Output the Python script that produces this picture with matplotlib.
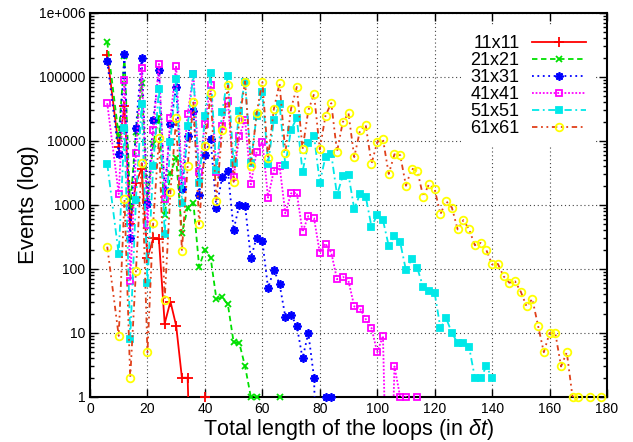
import numpy as np
import matplotlib
matplotlib.use("Agg")
import matplotlib.pyplot as plt
from matplotlib.lines import Line2D
from matplotlib.ticker import FixedLocator, FixedFormatter, LogLocator, NullFormatter

plt.rcParams["font.family"] = ["Liberation Sans", "DejaVu Sans"]
plt.rcParams["mathtext.fontset"] = "custom"
plt.rcParams["mathtext.it"] = "Liberation Sans:italic"
plt.rcParams["mathtext.rm"] = "Liberation Sans"

# loop lengths (in dt); length 8 never occurs
lengths = [6, 10, 12, 14, 16, 18, 20, 22, 24, 26, 28, 30, 32, 34, 36, 38, 40,
           42, 44, 46, 48, 50, 52, 54, 56, 58, 60, 62, 64, 66, 68, 70, 72, 74,
           76, 78, 80, 82, 84, 86, 88, 90, 92, 94, 96, 98, 100, 102, 104, 106,
           108, 110, 112, 114, 116, 118, 120, 122, 124, 126, 128, 130, 132,
           134, 136, 138, 140, 142, 144, 146, 148, 150, 152, 154, 156, 158,
           160, 162, 164, 166, 168, 170, 172, 174, 176, 178]

# events per length, one list per lattice size (0 = no event)
ev_11 = [220000, 8000, 35000, 500, 2240, 3700, 150, 300, 290, 14, 31, 13,
         2, 2, 0, 0, 1]
ev_21 = [350000, 12000, 210000, 900, 14000, 80000, 1100, 9000, 24000, 700,
         3200, 5400, 360, 900, 1080, 108, 200, 150, 34, 36, 28, 7.2, 6.9, 3,
         1, 1, 0, 0, 0, 1]
ev_31 = [175000, 6300, 230000, 300, 16000, 200000, 1040, 21000, 130000, 1700,
         18500, 69000, 1800, 12000, 29000, 1440, 6000, 10600, 890, 2700, 3450,
         410, 1000, 980, 147, 310, 275, 50, 98, 58, 18, 19, 13, 4, 10, 2, 0,
         1, 1]
ev_41 = [39000, 1480, 91000, 65, 6600, 138000, 490, 15000, 160000, 1240,
         23000, 150000, 2400, 26000, 112000, 3250, 18600, 74000, 3250, 17000,
         42000, 2700, 12000, 21500, 2100, 6800, 9800, 1300, 3450, 4100, 740,
         1520, 1550, 380, 670, 620, 180, 250, 180, 69, 76, 65, 26, 24, 16.5,
         12, 5, 9, 0, 3, 1, 1, 0, 1]
ev_51 = [4400, 170, 15800, 8, 1200, 38000, 60, 4100, 66000, 350, 9800, 94000,
         1070, 17300, 112000, 2200, 24500, 117000, 3500, 28000, 105000, 4500,
         29500, 85000, 4500, 25000, 59000, 4400, 21000, 38000, 4200, 15000,
         23000, 3300, 9400, 12000, 2240, 5700, 6300, 1440, 2850, 2950, 870,
         1480, 1350, 460, 700, 580, 230, 325, 260, 96, 143, 102, 52, 45, 42,
         12, 17, 10, 7, 7, 6, 2, 2, 3, 2]
ev_61 = [223, 9, 1230, 2, 94, 4500, 5, 520, 11000, 33, 1600, 23000, 193, 4100,
         40000, 500, 8500, 57000, 1150, 15000, 74000, 2300, 22000, 85000, 4000,
         27000, 85000, 5400, 31500, 80000, 6600, 32000, 70000, 7400, 30000,
         54000, 7400, 25000, 39000, 6800, 19700, 27000, 5600, 14600, 17700,
         4400, 9600, 10700, 3050, 6200, 6000, 2000, 3700, 3400, 1350, 2100,
         1760, 720, 1150, 910, 415, 580, 415, 235, 255, 197, 118, 120, 77, 61,
         64, 44, 26, 34, 13, 5, 10, 10, 3, 5, 1, 1, 0, 1, 0, 1]

labels = ["11x11", "21x21", "31x31", "41x41", "51x51", "61x61"]
series = [ev_11, ev_21, ev_31, ev_41, ev_51, ev_61]

styles = [
    dict(color="#ff0000", ls="-", marker="+", mc="#ff0000", mfc="#ff0000", ms=7),
    dict(color="#00e000", ls=(0, (3, 2)), marker="x", mc="#00e000", mfc="#00e000", ms=5),
    dict(color="#0000ff", ls=(0, (1, 2)), marker=(8, 2, 0), mc="#0000ff", mfc="#0000ff", ms=6),
    dict(color="#ff00ff", ls=(0, (1, 1)), marker="s", mc="#ff00ff", mfc="none", ms=5),
    dict(color="#00e8e8", ls=(0, (4, 2, 1, 2)), marker="s", mc="#00e8e8", mfc="#00e8e8", ms=5),
    dict(color="#e0401a", ls=(0, (3, 2, 1, 2, 1, 2)), marker="o", mc="#ffff00", mfc="none", ms=5.5),
]

fig = plt.figure(figsize=(6.33, 4.42), dpi=100)
ax = fig.add_axes([90 / 633, 1 - 397 / 442, 517 / 633, 384 / 442])

handles = []
for i, (vals, st) in enumerate(zip(series, styles)):
    x = np.array(lengths[:len(vals)], float)
    y = np.array(vals, float)
    # zero counts fall off the log axis, like gnuplot does
    y_line = np.where(y > 0, y, 1e-3)
    ax.plot(x, y_line, color=st["color"], ls=st["ls"], lw=1.3, zorder=3 + i)
    ok = y >= 1
    ax.plot(x[ok], y[ok], ls="none", marker=st["marker"], ms=st["ms"],
            mec=st["mc"], mfc=st["mfc"], mew=1.3, clip_on=False, zorder=3 + i)
    handles.append(Line2D([], [], color=st["color"], ls=st["ls"], lw=1.3,
                          marker=st["marker"], ms=st["ms"], mec=st["mc"],
                          mfc=st["mfc"], mew=1.3))

ax.set_yscale("log")
ax.set_xlim(0, 180)
ax.set_ylim(1, 1e6)

ax.set_xticks(range(0, 181, 20))
ax.yaxis.set_major_locator(FixedLocator([1, 10, 100, 1000, 1e4, 1e5, 1e6]))
ax.yaxis.set_major_formatter(FixedFormatter(["1", "10", "100", "1000", "10000",
                                             "100000", "1e+006"]))
ax.yaxis.set_minor_locator(LogLocator(base=10, subs=np.arange(2, 10)))
ax.yaxis.set_minor_formatter(NullFormatter())

ax.tick_params(which="both", direction="in", top=True, right=True, labelsize=10)
ax.tick_params(which="major", length=6, width=1)
ax.tick_params(which="minor", length=3, width=1)
for s in ax.spines.values():
    s.set_linewidth(1.5)

ax.grid(True, which="major", color="#444444", ls=(0, (1, 2.5)), lw=0.8)
ax.set_axisbelow(True)

ax.set_xlabel(r"Total length of the loops (in $\delta t$)", fontsize=15.5, labelpad=1)
ax.set_ylabel("Events (log)", fontsize=16, labelpad=0)

leg = ax.legend(handles, labels, loc="upper right", bbox_to_anchor=(0.995, 0.99),
                markerfirst=False, fontsize=13, handlelength=3.0,
                handletextpad=0.7, labelspacing=0.0, borderpad=0.5,
                frameon=True, fancybox=False, framealpha=1)
leg.get_frame().set_edgecolor("none")
leg.set_zorder(20)

fig.savefig("out.png", dpi=100)
